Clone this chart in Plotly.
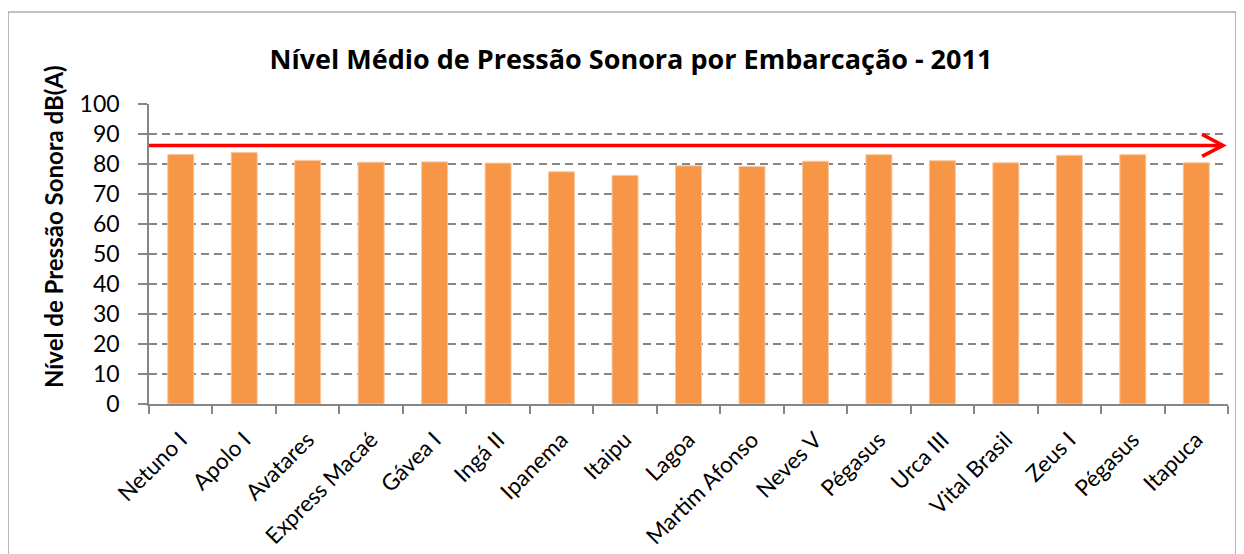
import plotly.graph_objects as go

vessels = ["Netuno I", "Apolo I", "Avatares", "Express Macaé", "Gávea I", "Ingá II",
           "Ipanema", "Itaipu", "Lagoa", "Martim Afonso", "Neves V", "Pégasus",
           "Urca III", "Vital Brasil", "Zeus I", "Pégasus", "Itapuca"]
levels = [83.2, 83.8, 81.2, 80.6, 80.7, 80.3, 77.4, 76.2, 79.4, 79.2,
          80.9, 83.1, 81.1, 80.4, 82.9, 83.1, 80.4]
limit_db = 86.2
y_ticks = [0, 10, 20, 30, 40, 50, 60, 70, 80, 90, 100]

positions = list(range(len(vessels)))

FONT = "Lato"
GRAY = "#868686"

fig = go.Figure()
fig.add_trace(go.Bar(
    x=positions, y=levels,
    marker=dict(color="#F79646", line=dict(color="#FAC8A0", width=1)),
    width=0.41,
    hoverinfo="y",
))

# limit line (arrow)
fig.add_shape(type="line", xref="paper", yref="y",
              x0=0, x1=0.9954, y0=limit_db, y1=limit_db,
              line=dict(color="#FF0000", width=3.5), layer="above")
fig.add_shape(type="path", xref="paper", yref="y",
              xsizemode="pixel", ysizemode="pixel",
              xanchor=0.9954, yanchor=limit_db,
              path="M -21,11 L 0,0 L -21,-11",
              line=dict(color="#FF0000", width=3.5), layer="above")

# chart frame
fig.add_shape(type="rect", xref="paper", yref="paper",
              x0=-0.1307, x1=1.0074, y0=-0.6, y1=1.3067,
              line=dict(color=GRAY, width=1.2), layer="below")

fig.add_annotation(text="<b>Nível de Pressão Sonora dB(A)</b>",
                   xref="paper", yref="paper", x=-0.089, y=0.593,
                   textangle=-90, showarrow=False,
                   font=dict(family=FONT, size=24, color="black"),
                   xanchor="center", yanchor="middle")

fig.update_layout(
    width=1236, height=546,
    margin=dict(l=141, r=16, t=96, b=150, autoexpand=False),
    paper_bgcolor="white", plot_bgcolor="white",
    showlegend=False,
    title=dict(text="<b>Nível Médio de Pressão Sonora por Embarcação - 2011</b>",
               x=0.504, xanchor="center", y=0.905, yanchor="middle",
               font=dict(family="Open Sans", size=27, color="black")),
    font=dict(family=FONT, color="black"),
)

fig.update_xaxes(
    range=[-0.5, len(vessels) - 0.5],
    tickmode="array", tickvals=positions, ticktext=vessels,
    tickangle=-45, ticks="", tickfont=dict(family=FONT, size=22.5, color="black"),
    ticklabelstandoff=12,
    showline=True, linecolor=GRAY, linewidth=1.5,
    showgrid=False, zeroline=False, automargin=False,
    minor=dict(tickmode="linear", tick0=-0.5, dtick=1, ticks="outside",
               ticklen=8, tickcolor=GRAY, tickwidth=1.5, showgrid=False),
)
fig.update_yaxes(
    range=[0, 100], tickmode="array", tickvals=y_ticks,
    ticks="outside", ticklen=9, tickcolor=GRAY, tickwidth=1.5,
    tickfont=dict(family=FONT, size=23, color="black"),
    ticklabelstandoff=14, automargin=False,
    showline=True, linecolor=GRAY, linewidth=1.5,
    showgrid=True, gridcolor=GRAY, gridwidth=1.5, griddash="8px,5px",
    zeroline=False,
)

fig.write_html("out.html")
